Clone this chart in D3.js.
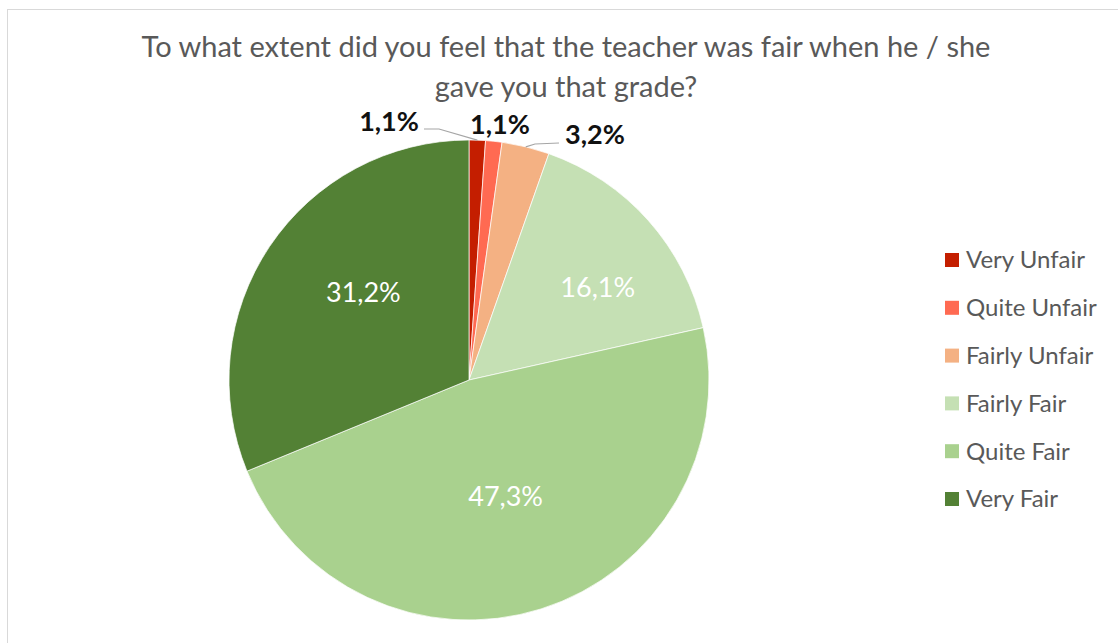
<!DOCTYPE html>
<html>
<head>
<meta charset="UTF-8">
<script src="https://d3js.org/d3.v7.min.js"></script>
<style>
  body { margin: 0; background: #fff; }
  svg { font-family: Lato, "Open Sans", sans-serif; }
</style>
</head>
<body>
<svg width="1118" height="643"></svg>
<script>
// data
var categories = ["Very Unfair", "Quite Unfair", "Fairly Unfair", "Fairly Fair", "Quite Fair", "Very Fair"];
var values = [1.1, 1.1, 3.2, 16.1, 47.3, 31.2];
var colors = ["#C41E00", "#FF6A52", "#F4B183", "#C5E0B4", "#A9D18E", "#538135"];
var titleLines = ["To what extent did you feel that the teacher was fair when he / she", "gave you that grade?"];

const width = 1118, height = 643;
const cx = 469, cy = 380, radius = 240;

var svg = d3.select("svg");

// frame
svg.append("rect")
  .attr("x", 7.5).attr("y", 9.5)
  .attr("width", width + 10).attr("height", height + 10)
  .attr("fill", "none").attr("stroke", "#d9d9d9").attr("stroke-width", 1);

// title
svg.append("g").selectAll("text")
  .data(titleLines)
  .enter().append("text")
  .attr("x", 566)
  .attr("y", function(d, i) { return 57 + i * 40; })
  .attr("text-anchor", "middle")
  .attr("fill", "#595959")
  .style("font-size", "29px")
  .text(function(d) { return d; });

var pie = d3.pie().sort(null).value(function(d) { return d; });
var arcs = pie(values);
var arc = d3.arc().innerRadius(0).outerRadius(radius);
var inner = d3.arc().innerRadius(radius * 0.55).outerRadius(radius * 0.55);
var rim = d3.arc().innerRadius(radius).outerRadius(radius);

var g = svg.append("g").attr("transform", "translate(" + cx + "," + cy + ")");

g.selectAll("path")
  .data(arcs)
  .enter().append("path")
  .attr("d", arc)
  .attr("fill", function(d, i) { return colors[i]; })
  .attr("stroke", "#fff")
  .attr("stroke-width", 0.7);

function fmt(v) { return v.toFixed(1).replace(".", ",") + "%"; }

// inside labels for the big slices
var insideShift = { 3: [30, -5], 4: [-3, -9], 5: [4, -14] };
g.selectAll("text.in")
  .data(arcs.filter(function(d) { return d.value > 10; }))
  .enter().append("text")
  .attr("class", "in")
  .attr("x", function(d) { return inner.centroid(d)[0] + insideShift[d.index][0]; })
  .attr("y", function(d) { return inner.centroid(d)[1] + insideShift[d.index][1]; })
  .attr("text-anchor", "middle")
  .attr("dy", "0.35em")
  .attr("fill", "#fff")
  .style("font-size", "27px")
  .text(function(d) { return fmt(d.value); });

// outside labels for the small slices (label centre relative to pie centre)
var outside = { 0: [-80, -258], 1: [31, -255], 2: [126, -245] };
var small = arcs.filter(function(d) { return d.value < 10; });

g.selectAll("polyline")
  .data(small.filter(function(d) { return d.index !== 1; }))
  .enter().append("polyline")
  .attr("fill", "none")
  .attr("stroke", "#a6a6a6")
  .attr("stroke-width", 1.2)
  .attr("points", function(d) {
    var p = rim.centroid(d);
    var o = outside[d.index];
    if (d.index === 0) return [[o[0] + 35, o[1] + 7], [o[0] + 50, o[1] + 7], p].join(" ");
    return [[o[0] - 36, o[1] + 8], [o[0] - 60, o[1] + 9], p].join(" ");
  });

g.selectAll("text.out")
  .data(small)
  .enter().append("text")
  .attr("class", "out")
  .attr("x", function(d) { return outside[d.index][0]; })
  .attr("y", function(d) { return outside[d.index][1]; })
  .attr("text-anchor", "middle")
  .attr("dy", "0.35em")
  .attr("fill", "#111")
  .style("font-size", "27px")
  .style("font-weight", "bold")
  .text(function(d) { return fmt(d.value); });

// legend
var y = d3.scalePoint().domain(categories).range([260, 499]);
var leg = svg.append("g").selectAll("g")
  .data(categories)
  .enter().append("g")
  .attr("transform", function(d) { return "translate(945," + y(d) + ")"; });

leg.append("rect")
  .attr("x", 0).attr("y", -7)
  .attr("width", 14).attr("height", 14)
  .attr("fill", function(d, i) { return colors[i]; });

leg.append("text")
  .attr("x", 21)
  .attr("dy", "0.35em")
  .attr("fill", "#595959")
  .style("font-size", "24px")
  .text(function(d) { return d; });
</script>
</body>
</html>
